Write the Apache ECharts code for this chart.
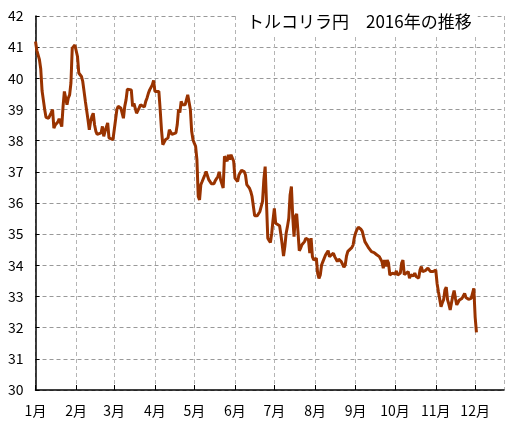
<!DOCTYPE html>
<html><head><meta charset="utf-8">
<script src="https://cdn.jsdelivr.net/npm/echarts@6/dist/echarts.min.js"></script>
<style>html,body{margin:0;padding:0;background:#fff}#c{width:528px;height:428px}</style>
</head><body><div id="c"></div>
<script>
const titleText = 'トルコリラ円　2016年の推移';
const year = '2016';
const dates = [
'01-01','01-02','01-04','01-05','01-06','01-07','01-08','01-09','01-11','01-12','01-13','01-14','01-15','01-16','01-18','01-19','01-20','01-21','01-22','01-23','01-24','01-25','01-26','01-27','01-28','01-29','01-30','01-31',
'02-01','02-02','02-03','02-05','02-06','02-07','02-08','02-10','02-11','02-12','02-13','02-14','02-15','02-16','02-17','02-18','02-20','02-21','02-22','02-23','02-25','02-26','02-27','02-29',
'03-01','03-02','03-03','03-04','03-05','03-06','03-08','03-09','03-10','03-11','03-12','03-14','03-15','03-16','03-17','03-18','03-20','03-21','03-22','03-24','03-25','03-26','03-27','03-28','03-30','03-31',
'04-01','04-02','04-04','04-05','04-06','04-07','04-08','04-09','04-11','04-12','04-13','04-14','04-15','04-17','04-18','04-19','04-20','04-21','04-22','04-24','04-25','04-26','04-27','04-28','04-29','04-30',
'05-01','05-02','05-03','05-04','05-05','05-06','05-07','05-08','05-09','05-10','05-12','05-13','05-14','05-16','05-17','05-19','05-20','05-21','05-22','05-23','05-24','05-25','05-26','05-27','05-28','05-29','05-30','05-31',
'06-01','06-03','06-04','06-06','06-07','06-08','06-09','06-10','06-12','06-13','06-14','06-15','06-16','06-18','06-19','06-20','06-21','06-22','06-23','06-24','06-25','06-26','06-27','06-28','06-29','06-30',
'07-01','07-02','07-03','07-05','07-06','07-07','07-08','07-09','07-10','07-11','07-12','07-13','07-14','07-15','07-16','07-17','07-18','07-19','07-20','07-21','07-22','07-24','07-25','07-26','07-27','07-28','07-29','07-30','07-31',
'08-01','08-02','08-03','08-04','08-05','08-06','08-07','08-09','08-10','08-11','08-12','08-13','08-15','08-16','08-17','08-18','08-19','08-21','08-22','08-23','08-24','08-25','08-26','08-27','08-29','08-30','08-31',
'09-01','09-02','09-03','09-04','09-05','09-06','09-07','09-08','09-09','09-10','09-11','09-12','09-13','09-14','09-15','09-16','09-17','09-19','09-20','09-21','09-22','09-23','09-24','09-25','09-26','09-27','09-28','09-29','09-30',
'10-01','10-02','10-03','10-05','10-06','10-07','10-08','10-09','10-11','10-12','10-13','10-14','10-15','10-16','10-17','10-18','10-19','10-20','10-21','10-22','10-23','10-24','10-25','10-26','10-27','10-28','10-29','10-30','10-31',
'11-01','11-02','11-03','11-04','11-05','11-06','11-07','11-08','11-09','11-10','11-11','11-12','11-13','11-14','11-15','11-16','11-17','11-18','11-19','11-20','11-21','11-22','11-23','11-24','11-25','11-26','11-27','11-28','11-29','11-30',
'12-01','12-02'
];
const rates = [
41.18,40.9,40.6,40.3,39.6,39.3,39.0,38.75,38.72,38.78,38.9,39.0,38.4,38.5,38.6,38.7,38.68,38.45,39.1,39.58,39.37,39.15,39.37,39.47,39.85,40.97,41.02,41.07,
41.02,40.7,40.17,40.06,39.9,39.58,39.26,38.67,38.35,38.62,38.78,38.88,38.51,38.3,38.2,38.14,38.25,38.46,38.14,38.3,38.57,38.09,38.03,38.03,
38.35,38.67,39.0,39.1,39.15,39.05,38.72,39.1,39.31,39.65,39.65,39.63,39.1,39.2,39.15,38.88,39.05,39.15,39.2,39.08,39.26,39.37,39.52,39.63,39.79,39.93,
39.58,39.58,39.58,39.0,38.35,37.87,37.92,38.03,38.09,38.35,38.4,38.2,38.14,38.25,38.51,39.0,38.9,39.26,39.15,39.15,39.1,39.47,39.52,39.0,38.3,38.03,
37.92,37.82,37.39,36.21,36.1,36.59,36.69,36.75,36.9,37.01,36.75,36.69,36.62,36.62,36.72,36.85,37.0,36.75,36.69,36.48,37.5,37.55,37.34,37.55,37.39,37.55,37.6,37.34,
36.8,36.69,36.9,37.05,37.07,37.01,36.9,36.59,36.48,36.37,36.21,36.16,35.59,35.59,35.62,35.73,35.89,36.05,36.75,37.17,37.17,34.87,34.8,34.73,35.03,35.46,
35.83,35.35,35.33,35.27,34.98,34.66,34.3,34.6,35.03,35.25,35.51,36.26,36.53,35.57,34.92,35.57,35.65,35.08,34.47,34.55,34.66,34.76,34.87,34.92,34.82,34.39,34.87,34.28,34.17,
34.17,34.23,33.74,33.58,33.69,34.01,34.12,34.33,34.28,34.47,34.28,34.3,34.39,34.28,34.33,34.12,34.2,34.12,34.07,33.94,34.01,34.3,34.45,34.5,34.57,34.65,34.9,
35.05,35.15,35.22,35.25,35.16,35.09,34.92,34.76,34.71,34.62,34.55,34.5,34.44,34.44,34.41,34.39,34.34,34.28,34.23,34.12,33.91,34.17,33.96,34.17,34.07,33.69,33.69,33.75,33.8,
33.72,33.82,33.69,33.75,34.07,34.17,33.7,33.72,33.8,33.59,33.69,33.75,33.66,33.75,33.64,33.59,33.59,33.85,33.96,33.8,33.8,33.83,33.85,33.91,33.88,33.8,33.83,33.8,33.83,
33.85,33.42,33.16,33.1,32.67,32.8,32.9,33.21,33.3,32.89,32.75,32.57,32.8,33.02,33.19,32.94,32.73,32.67,32.89,32.91,32.94,32.97,33.1,32.97,32.94,32.91,32.94,32.94,32.89,33.26,
32.35,31.85
];
const yTicks = [30,31,32,33,34,35,36,37,38,39,40,41,42];
const xStart = '2016-01-01', xEnd = '2016-12-23';

const chart = echarts.init(document.getElementById('c'));
const font = '"Noto Sans CJK JP", sans-serif';
chart.setOption({
  animation: false,
  backgroundColor: '#fff',
  title: {
    text: titleText, left: 237, top: 9,
    padding: [4, 6, 4, 10], backgroundColor: '#fff',
    textStyle: {fontFamily: font, fontSize: 17, fontWeight: 'normal', color: '#000'}
  },
  grid: {left: 35.5, right: 24, top: 16, bottom: 38, containLabel: false},
  xAxis: {
    type: 'time', min: xStart, max: xEnd, splitNumber: 12,
    axisLine: {lineStyle: {color: '#000', width: 1.5}},
    axisTick: {inside: true, length: 5, lineStyle: {color: '#000'}},
    axisLabel: {fontFamily: font, fontSize: 14, color: '#000', margin: 14, showMaxLabel: false,
      formatter: v => (new Date(v).getMonth() + 1) + '月'},
    splitLine: {show: true, lineStyle: {color: '#b4b4b4', type: [4, 3]}}
  },
  yAxis: {
    type: 'value', min: yTicks[0], max: yTicks[yTicks.length - 1], interval: 1,
    axisLine: {show: true, lineStyle: {color: '#000', width: 1.5}},
    axisTick: {show: true, inside: true, length: 4, lineStyle: {color: '#000'}},
    axisLabel: {fontFamily: font, fontSize: 14, color: '#000', margin: 12},
    splitLine: {show: true, lineStyle: {color: '#999', type: [4, 3]}}
  },
  series: [{
    type: 'line', showSymbol: false, symbol: 'none',
    data: dates.map((d, i) => [year + '-' + d, rates[i]]),
    lineStyle: {color: '#993300', width: 3},
    itemStyle: {color: '#993300'}
  }]
});
</script></body></html>
